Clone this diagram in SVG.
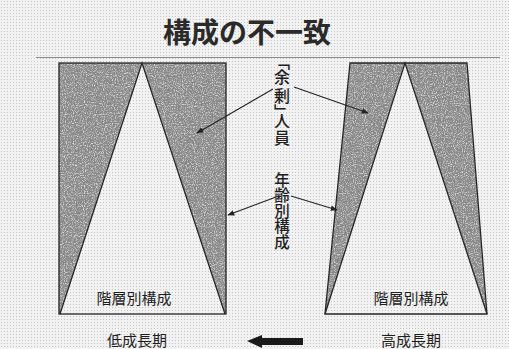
<svg xmlns="http://www.w3.org/2000/svg" width="509" height="349" viewBox="0 0 509 349">
<style>
.title{font-family:"Noto Sans CJK JP","Noto Sans CJK SC",sans-serif;font-weight:700;font-size:28px;fill:#2a2a2a}
.lbl{font-family:"Noto Sans CJK JP","Noto Sans CJK SC",sans-serif;font-size:15px;fill:#1e1e1e}
.vlbl{font-family:"Noto Sans CJK JP","Noto Sans CJK SC",sans-serif;font-size:15.5px;font-weight:500;fill:#1e1e1e;writing-mode:vertical-rl}
.vchars{font-family:"Noto Sans CJK JP","Noto Sans CJK SC",sans-serif;font-size:16px;font-weight:500;fill:#1e1e1e;font-feature-settings:"vert" 1}
.dark{fill:#858585;stroke:none}
.edge{fill:none;stroke:#262626;stroke-width:1.3;stroke-linejoin:miter}
.conn{stroke:#222;stroke-width:1.1;fill:none}
</style>
<defs>
<pattern id="dots" width="3" height="3" patternUnits="userSpaceOnUse">
<rect width="3" height="3" fill="#f2f2f2"/>
<rect x="1" y="1" width="1" height="1" fill="#c4c4c4"/>
</pattern>
<filter id="grain" filterUnits="userSpaceOnUse" x="0" y="0" width="509" height="349">
<feTurbulence type="fractalNoise" baseFrequency="0.9" numOctaves="2" seed="4" result="n"/>
<feColorMatrix in="n" type="matrix" values="0 0 0 0 0.3  0 0 0 0 0.3  0 0 0 0 0.3  3 0 0 0 -1.25" result="d"/>
<feColorMatrix in="n" type="matrix" values="0 0 0 0 0.72  0 0 0 0 0.72  0 0 0 0 0.72  0 -3 0 0 1.55" result="l"/>
<feMerge result="both"><feMergeNode in="SourceGraphic"/><feMergeNode in="d"/><feMergeNode in="l"/></feMerge>
<feComposite in="both" in2="SourceGraphic" operator="in"/>
</filter>
<marker id="ah" viewBox="0 0 10 10" refX="9" refY="5" markerWidth="7" markerHeight="7" orient="auto" markerUnits="userSpaceOnUse">
<path d="M0,1 L10,5 L0,9 Z" fill="#222"/>
</marker>
</defs>
<rect width="509" height="349" fill="url(#dots)"/>

<g id="title">
<text class="title" x="247" y="43" text-anchor="middle">構成の不一致</text>
<line x1="36" y1="57.5" x2="500" y2="57.5" stroke="#8a8a8a" stroke-width="1.2"/>
</g>

<g id="low-growth">
<rect class="dark" x="59" y="63" width="167" height="251" filter="url(#grain)"/>
<polygon points="142,63 60,314 225,314" fill="url(#dots)"/>
<rect class="edge" x="59" y="63" width="167" height="251"/>
<polyline class="edge" points="60,314 142,63 225,314"/>
<text class="lbl" x="134" y="304" text-anchor="middle">階層別構成</text>
</g>

<g id="high-growth">
<polygon class="dark" points="350,63 405,63 325,314" filter="url(#grain)"/>
<polygon class="dark" points="405,63 467,63 487,314" filter="url(#grain)"/>
<polygon class="edge" points="350,63 467,63 487,314 325,314"/>
<polyline class="edge" points="325,314 405,63 487,314"/>
<text class="lbl" x="411" y="304" text-anchor="middle">階層別構成</text>
</g>

<g id="label-surplus">
<text class="vchars" text-anchor="middle"><tspan x="282" y="68">「</tspan><tspan x="282" y="83">余</tspan><tspan x="282" y="102">剰</tspan><tspan x="282" y="118">」</tspan><tspan x="282" y="127">人</tspan><tspan x="282" y="144">員</tspan></text>
</g>
<g id="label-age">
<text class="vlbl" x="282" y="172">年齢別構成</text>
</g>

<g id="connectors">
<line class="conn" x1="273" y1="89" x2="197" y2="133" marker-end="url(#ah)"/>
<line class="conn" x1="294" y1="87" x2="368" y2="113" marker-end="url(#ah)"/>
<line class="conn" x1="276" y1="197" x2="228" y2="215" marker-end="url(#ah)"/>
<line class="conn" x1="291" y1="196" x2="337" y2="210" marker-end="url(#ah)"/>
<polygon points="247,341 262,335 262,338 303,338 303,345 262,345 262,348" fill="#1a1a1a"/>
</g>

<g id="captions">
<text class="lbl" x="137" y="346" text-anchor="middle" font-size="16">低成長期</text>
<text class="lbl" x="411" y="346" text-anchor="middle" font-size="16">高成長期</text>
</g>
</svg>
